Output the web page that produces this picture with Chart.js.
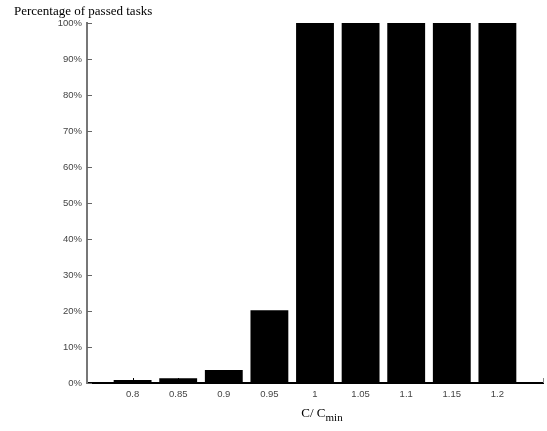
<!DOCTYPE html>
<html>
<head>
<meta charset="utf-8">
<script src="https://cdn.jsdelivr.net/npm/chart.js@4/dist/chart.umd.min.js"></script>
<style>
  html, body { margin: 0; padding: 0; background: #fff; }
  #wrap { width: 547px; height: 431px; position: relative; }
</style>
</head>
<body>
<div id="wrap"><canvas id="c" width="547" height="431"></canvas></div>
<script>
// Capacity ratio C / C_min and the share of task sets that passed at each ratio
const ratios = [0.8, 0.85, 0.9, 0.95, 1, 1.05, 1.1, 1.15, 1.2];
const passedPct = [0.8, 1.3, 3.6, 20.2, 100, 100, 100, 100, 100];
const yTicks = [0, 10, 20, 30, 40, 50, 60, 70, 80, 90, 100];
const xRange = [0.75, 1.25];

const yTitle = 'Percentage of passed tasks';
const xTitleMain = 'C/ C';
const xTitleSub = 'min';

// Inward-pointing tick marks, drawn under the bars
const innerTicks = {
  id: 'innerTicks',
  beforeDatasetsDraw(chart) {
    const { ctx, chartArea: a, scales: { x, y } } = chart;
    ctx.save();
    ctx.strokeStyle = '#666';
    ctx.lineWidth = 1;
    yTicks.forEach(v => {
      const py = Math.round(y.getPixelForValue(v)) + 0.5;
      ctx.beginPath();
      ctx.moveTo(a.left, py);
      ctx.lineTo(a.left + 5, py);
      ctx.stroke();
    });
    ctx.strokeStyle = '#000';
    ratios.concat([xRange[1]]).forEach(v => {
      const px = Math.round(x.getPixelForValue(v)) + 0.5;
      ctx.strokeStyle = v === xRange[1] ? '#888' : '#000';
      ctx.beginPath();
      ctx.moveTo(px, a.bottom);
      ctx.lineTo(px, a.bottom - 5);
      ctx.stroke();
    });
    ctx.restore();
  }
};

// Serif axis titles: y title above the plot, x title with subscript below it
const axisTitles = {
  id: 'axisTitles',
  afterDraw(chart) {
    const { ctx, chartArea: a } = chart;
    ctx.save();
    ctx.fillStyle = '#000';
    ctx.textBaseline = 'alphabetic';
    ctx.textAlign = 'left';
    ctx.font = '13px "Liberation Serif", "Times New Roman", serif';
    ctx.fillText(yTitle, 14, 15);

    const mainW = ctx.measureText(xTitleMain).width;
    ctx.font = '11px "Liberation Serif", "Times New Roman", serif';
    const subW = ctx.measureText(xTitleSub).width;
    const cx = 322;
    const x0 = cx - (mainW + subW) / 2;
    ctx.font = '13px "Liberation Serif", "Times New Roman", serif';
    ctx.fillText(xTitleMain, x0, 417);
    ctx.font = '11px "Liberation Serif", "Times New Roman", serif';
    ctx.fillText(xTitleSub, x0 + mainW, 421);
    ctx.restore();
  }
};

new Chart(document.getElementById('c'), {
  type: 'bar',
  data: {
    datasets: [{
      data: ratios.map((r, i) => ({ x: r, y: passedPct[i] })),
      backgroundColor: '#000',
      borderWidth: 0,
      barPercentage: 0.83,
      categoryPercentage: 1
    }]
  },
  plugins: [innerTicks, axisTitles],
  options: {
    responsive: false,
    animation: false,
    layout: { padding: { top: 23, right: 4, left: 0, bottom: 0 } },
    plugins: { legend: { display: false }, tooltip: { enabled: false } },
    scales: {
      x: {
        type: 'linear',
        min: xRange[0],
        max: xRange[1],
        offset: false,
        afterBuildTicks(scale) { scale.ticks = ratios.map(v => ({ value: v })); },
        afterFit(scale) { scale.height = 48; },
        grid: { display: false, drawTicks: false },
        border: { display: true, color: '#000', width: 2 },
        ticks: {
          padding: 6,
          color: '#444',
          font: { family: '"Liberation Sans", Arial, sans-serif', size: 9.5 },
          callback: v => String(v),
          maxRotation: 0,
          autoSkip: false
        }
      },
      y: {
        min: 0,
        max: 100,
        afterBuildTicks(scale) { scale.ticks = yTicks.map(v => ({ value: v })); },
        afterFit(scale) { scale.width = 87; },
        grid: { display: false, drawTicks: false },
        border: { display: true, color: '#777', width: 2 },
        ticks: {
          padding: 5,
          color: '#444',
          font: { family: '"Liberation Sans", Arial, sans-serif', size: 9.5 },
          callback: v => v + '%'
        }
      }
    }
  }
});
</script>
</body>
</html>
